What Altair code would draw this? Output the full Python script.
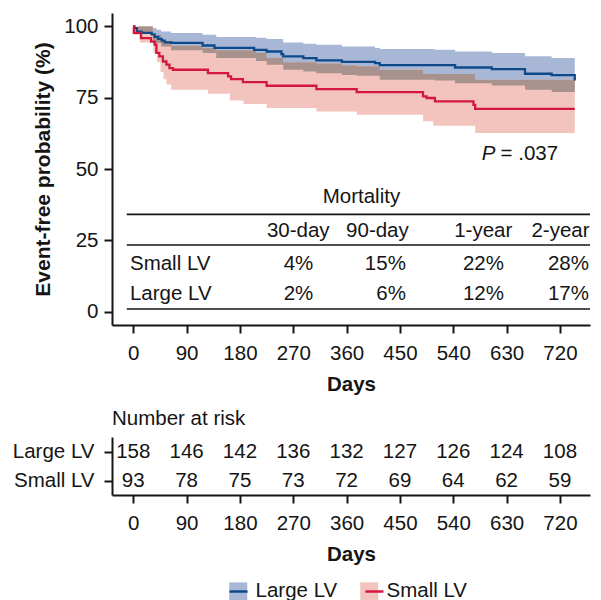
import altair as alt
import pandas as pd

# ---------------- data ----------------
groups = ["Large LV", "Small LV"]
day_ticks = [0, 90, 180, 270, 360, 450, 540, 630, 720]
pct_ticks = [0, 25, 50, 75, 100]

# Kaplan-Meier curves (step-after breakpoints, % event-free)
large_days = [0, 2, 6, 14, 31, 36, 42, 48, 53, 64, 117, 137, 204, 225, 250, 253, 287, 309, 352, 408, 416, 543, 605, 661, 706, 745]
large_pct = [100, 99.4, 98.2, 97.7, 97.2, 96.3, 95.6, 95.0, 94.4, 94.2, 93.3, 92.5, 91.8, 91.2, 90.3, 89.5, 88.9, 88.1, 87.6, 87.1, 86.4, 85.6, 85.0, 83.4, 82.9, 81.0]

small_days = [0, 1, 13, 30, 36, 39, 44, 50, 56, 61, 67, 126, 160, 165, 185, 225, 309, 377, 489, 495, 509, 574, 577, 745]
small_pct = [100, 97.7, 95.9, 94.7, 93.6, 90.7, 89.5, 87.7, 86.6, 85.4, 84.8, 83.6, 82.5, 81.5, 80.5, 79.2, 78.0, 77.0, 75.5, 74.9, 73.7, 72.5, 71.1, 71.1]

# confidence bands
large_up_days = [0, 33, 39, 47, 64, 117, 140, 207, 225, 253, 287, 309, 352, 408, 416, 509, 543, 605, 661, 706, 745]
large_up_pct = [100, 99.4, 98.8, 98.2, 97.7, 97.1, 96.3, 96.0, 95.6, 94.4, 93.9, 93.6, 93.0, 92.4, 92.1, 91.8, 91.2, 90.7, 89.5, 88.9, 88.9]
large_lo_days = [0, 8, 33, 47, 64, 117, 140, 207, 225, 253, 287, 309, 352, 377, 416, 509, 543, 605, 661, 706, 745]
large_lo_pct = [100, 97.9, 94.2, 93.0, 91.6, 90.7, 88.9, 87.9, 86.6, 84.8, 84.2, 83.6, 83.0, 82.7, 81.3, 81.0, 80.1, 79.3, 77.8, 77.0, 77.0]

small_up_days = [0, 33, 47, 64, 117, 140, 207, 225, 253, 309, 352, 377, 416, 489, 577, 745]
small_up_pct = [100, 97.0, 95.0, 93.2, 92.4, 91.6, 90.7, 89.0, 87.4, 87.0, 86.4, 86.0, 84.8, 83.3, 81.3, 81.3]
small_lo_days = [0, 1, 11, 34, 40, 46, 51, 56, 64, 126, 163, 186, 225, 309, 377, 489, 506, 577, 745]
small_lo_pct = [100, 97.1, 94.4, 90.7, 87.5, 84.0, 81.5, 79.6, 77.8, 76.4, 74.0, 72.8, 71.4, 70.2, 69.0, 66.8, 65.2, 62.6, 62.6]

# mortality table
mort_header = "Mortality"
mort_cols = ["30-day", "90-day", "1-year", "2-year"]
mort_small = ["4%", "15%", "22%", "28%"]
mort_large = ["2%", "6%", "12%", "17%"]
p_label = ".037"

# number at risk
risk_large = [158, 146, 142, 136, 132, 127, 126, 124, 108]
risk_small = [93, 78, 75, 73, 72, 69, 64, 62, 59]

# ---------------- layout / style ----------------
FONT = "Liberation Sans"
FS = 20.5
INK = "#151515"
BLUE_BAND = "#a8b7d6"
PINK_BAND = "#f3c4bd"
OVERLAP = "#a8928d"
BLUE_LINE = "#0d4a8c"
RED_LINE = "#d3173e"

W, H = 478, 312
X_DOM = [-35.9, -35.9 + W / 0.5926]
Y_DOM = [-4.66, 104.7]

# table anchor positions expressed in data units of the plot
col_center = [278.4, 412, 590.6, 720.9]
col_right = [303.8, 460, 625.6, 769]
row_label_x = -5.6
title_x = 385
y_title, y_rule1, y_head, y_rule2, y_small, y_large, y_rule3 = 38.0, 34.1, 26.1, 23.4, 14.6, 4.1, 0.95
rule_x = [-11, X_DOM[1]]
p_x_left, p_x_right, p_y = 588, 717, 53.2


def step_val(days, vals, t):
    v = vals[0]
    for d, x in zip(days, vals):
        if d <= t:
            v = x
        else:
            break
    return v


def band_frame(group, ud, uv, ld, lv):
    ts = sorted(set(ud) | set(ld))
    return pd.DataFrame({
        "group": group,
        "day": ts,
        "upper": [step_val(ud, uv, t) for t in ts],
        "lower": [step_val(ld, lv, t) for t in ts],
    })


band_df = pd.concat([
    band_frame("Large LV", large_up_days, large_up_pct, large_lo_days, large_lo_pct),
    band_frame("Small LV", small_up_days, small_up_pct, small_lo_days, small_lo_pct),
], ignore_index=True)

ts_all = sorted(set(large_up_days) | set(large_lo_days) | set(small_up_days) | set(small_lo_days))
ov_rows = []
for t in ts_all:
    lo = max(step_val(large_lo_days, large_lo_pct, t), step_val(small_lo_days, small_lo_pct, t))
    hi = min(step_val(large_up_days, large_up_pct, t), step_val(small_up_days, small_up_pct, t))
    ov_rows.append({"day": t, "upper": max(hi, lo), "lower": lo})
overlap_df = pd.DataFrame(ov_rows)

line_df = pd.concat([
    pd.DataFrame({"group": "Large LV", "day": large_days, "pct": large_pct}),
    pd.DataFrame({"group": "Small LV", "day": small_days, "pct": small_pct}),
], ignore_index=True)

xs = alt.Scale(domain=X_DOM, nice=False, zero=False)
ys = alt.Scale(domain=Y_DOM, nice=False, zero=False)

x_axis = alt.Axis(values=day_ticks, title="Days", labelPadding=10, titlePadding=11, format="d")
y_axis = alt.Axis(values=pct_ticks, title="Event-free probability (%)", labelPadding=6,
                  titlePadding=10, titleFontSize=21, format="d")

leg_common = dict(title=None, orient="none", legendX=116, legendY=568, direction="horizontal",
                  symbolSize=324, labelFontSize=FS, labelFont=FONT, labelColor=INK,
                  labelOffset=7, padding=0)

bands = alt.Chart(band_df).mark_area(interpolate="step-after", opacity=1).encode(
    x=alt.X("day:Q", scale=xs, axis=x_axis),
    y=alt.Y("upper:Q", scale=ys, axis=y_axis),
    y2="lower:Q",
    fill=alt.Fill("group:N", scale=alt.Scale(domain=groups, range=[BLUE_BAND, PINK_BAND]),
                  legend=alt.Legend(symbolType="square", symbolStrokeWidth=0, columnPadding=21,
                                    **leg_common)),
)

overlap = alt.Chart(overlap_df).mark_area(interpolate="step-after", color=OVERLAP, opacity=1).encode(
    x=alt.X("day:Q", scale=xs),
    y=alt.Y("upper:Q", scale=ys),
    y2="lower:Q",
)

# line-symbol legend drawn over the square legend (labels come from the square legend)
lines = alt.Chart(line_df).mark_line(interpolate="step-after", strokeWidth=2.3).encode(
    x=alt.X("day:Q", scale=xs),
    y=alt.Y("pct:Q", scale=ys),
    stroke=alt.Stroke("group:N", scale=alt.Scale(range=[BLUE_LINE, RED_LINE]),
                      legend=alt.Legend(symbolType="stroke", symbolStrokeWidth=2.5, labelExpr="''",
                                        columnPadding=104, **leg_common)),
)

# table text
center_df = pd.DataFrame({
    "x": [title_x] + col_center,
    "y": [y_title] + [y_head] * 4,
    "t": [mort_header] + mort_cols,
})
right_df = pd.DataFrame({
    "x": col_right * 2,
    "y": [y_small] * 4 + [y_large] * 4,
    "t": mort_small + mort_large,
})
left_df = pd.DataFrame({"x": [row_label_x, row_label_x], "y": [y_small, y_large], "t": ["Small LV", "Large LV"]})
rule_df = pd.DataFrame({"x": [rule_x[0]] * 3, "x2": [rule_x[1]] * 3, "y": [y_rule1, y_rule2, y_rule3]})


def txt(df, align, **kw):
    return alt.Chart(df).mark_text(align=align, baseline="alphabetic", font=FONT, fontSize=FS,
                                   color=INK, **kw).encode(
        x=alt.X("x:Q", scale=xs), y=alt.Y("y:Q", scale=ys), text="t:N")


rules = alt.Chart(rule_df).mark_rule(color=INK, strokeWidth=1.6).encode(
    x=alt.X("x:Q", scale=xs), x2="x2:Q", y=alt.Y("y:Q", scale=ys))

p_df1 = pd.DataFrame({"x": [p_x_left], "y": [p_y], "t": ["P"]})
p_df2 = pd.DataFrame({"x": [p_x_right], "y": [p_y], "t": ["= " + p_label]})

main = alt.layer(
    bands, overlap, lines, rules,
    txt(center_df, "center"), txt(right_df, "right"), txt(left_df, "left"),
    txt(p_df1, "left", fontStyle="italic"), txt(p_df2, "right"),
).properties(width=W, height=H)

risk_df = pd.DataFrame({
    "group": ["Large LV"] * len(day_ticks) + ["Small LV"] * len(day_ticks),
    "day": day_ticks * 2,
    "n": risk_large + risk_small,
})

risk = alt.Chart(risk_df).mark_text(font=FONT, fontSize=FS, color=INK, baseline="middle").encode(
    x=alt.X("day:Q", scale=xs, axis=x_axis),
    y=alt.Y("group:N", scale=alt.Scale(type="point", domain=groups, padding=0.5),
            axis=alt.Axis(title=None, labelPadding=10)),
    text="n:N",
).properties(width=W, height=58,
             title=alt.TitleParams("Number at risk", anchor="start", frame="group", font=FONT,
                                   fontSize=FS, fontWeight="normal", color=INK,
                                   baseline="alphabetic", offset=-8))

chart = alt.vconcat(main, risk, spacing=13).properties(
    padding={"left": 4, "top": 5, "right": 0, "bottom": 0}
).configure_view(stroke=None).configure_axis(
    domainColor=INK, domainWidth=2, tickColor=INK, tickWidth=2, tickSize=8,
    labelFont=FONT, labelFontSize=FS, labelColor=INK,
    titleFont=FONT, titleFontSize=FS, titleFontWeight="bold", titleColor=INK, grid=False,
)

chart.save("out.html", embed_options={"renderer": "svg", "actions": False})
